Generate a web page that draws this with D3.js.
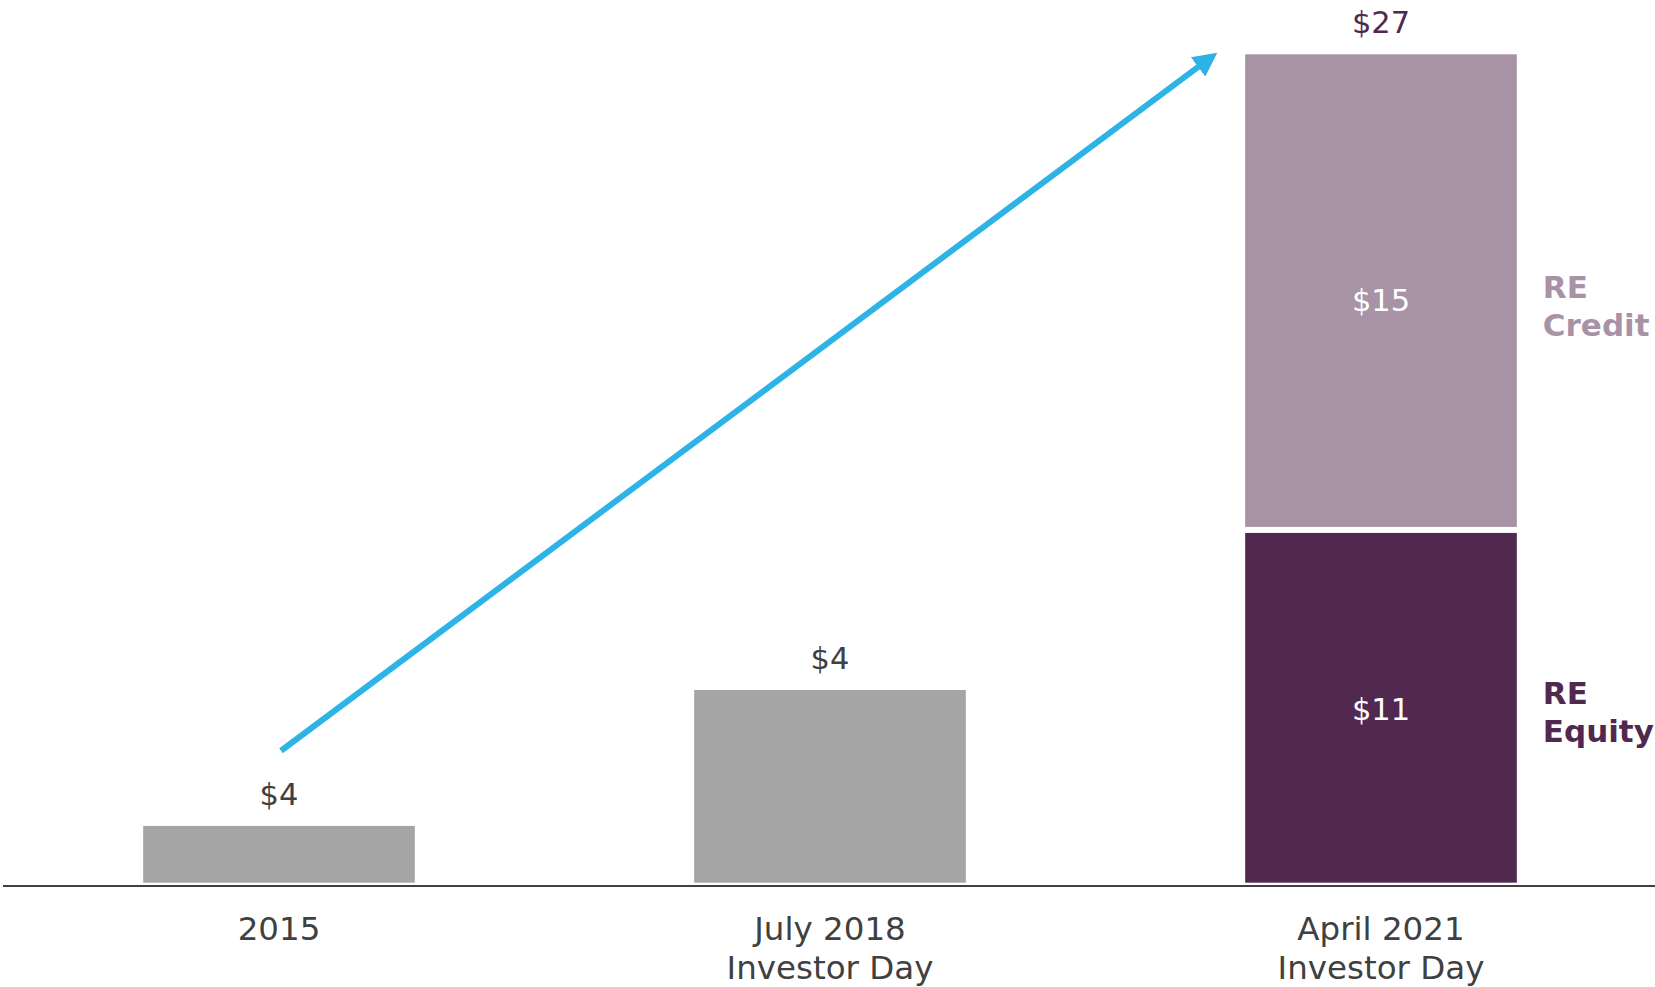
<!DOCTYPE html>
<html>
<head>
<meta charset="utf-8">
<script src="https://cdn.jsdelivr.net/npm/d3@7"></script>
<style>
  html, body { margin: 0; padding: 0; background: #ffffff; }
  svg { display: block; }
  text { font-family: "DejaVu Sans", Verdana, sans-serif; }
</style>
</head>
<body>
<svg id="chart" width="1655" height="987"></svg>
<script>
// ---- data ----
const categories = ["2015", "July 2018\nInvestor Day", "April 2021\nInvestor Day"];
const grayValues = [1.85, 6.28, null];          // single-colour bars (as drawn)
const grayLabels = ["$4", "$4", null];
const equityValues = [null, null, 11.4];        // RE Equity segment
const creditValues = [null, null, 15.6];        // RE Credit segment
const segmentLabels = { equity: "$11", credit: "$15" };
const totalLabels = [null, null, "$27"];
const seriesNames = ["RE Equity", "RE Credit"];
const arrowFrom = { cat: 0, value: 4.3 };
const arrowTo = { cat: 2, value: 27.05 };

// ---- styles ----
const C = {
  gray: "#a5a5a5",
  equity: "#51284f",
  credit: "#a893a6",
  text: "#404040",
  axis: "#404040",
  arrow: "#2db3e6"
};

const svg = d3.select("#chart");
const W = 1655, H = 987;
const baseY = 882.7;

const x = d3.scaleBand()
  .domain(categories)
  .range([3.5, 1656.5])
  .paddingInner(0.507)
  .paddingOuter(0.2535);

const y = d3.scaleLinear()
  .domain([0, 27])
  .range([baseY, 54.3]);

const bw = x.bandwidth();

// gray bars
const gIdx = grayValues.map((v, i) => i).filter(i => grayValues[i] != null);
svg.append("g").selectAll("rect").data(gIdx).join("rect")
  .attr("x", i => x(categories[i]))
  .attr("width", bw)
  .attr("y", i => y(grayValues[i]))
  .attr("height", i => y(0) - y(grayValues[i]))
  .attr("fill", C.gray);

svg.append("g").selectAll("text").data(gIdx).join("text")
  .attr("x", i => x(categories[i]) + bw / 2)
  .attr("y", i => y(grayValues[i]) - 21)
  .attr("text-anchor", "middle")
  .attr("font-size", 30.5)
  .attr("fill", C.text)
  .text(i => grayLabels[i]);

// stacked bar
const sIdx = equityValues.map((v, i) => i).filter(i => equityValues[i] != null);
const gap = 6;
sIdx.forEach(i => {
  const cx = x(categories[i]);
  const e = equityValues[i], c = creditValues[i];
  // equity
  svg.append("rect")
    .attr("x", cx).attr("width", bw)
    .attr("y", y(e)).attr("height", y(0) - y(e))
    .attr("fill", C.equity);
  // credit (white gap between segments)
  svg.append("rect")
    .attr("x", cx).attr("width", bw)
    .attr("y", y(e + c)).attr("height", y(e) - y(e + c) - gap)
    .attr("fill", C.credit);

  const eMid = (y(0) + y(e)) / 2 + 12;
  const cMid = (y(e) + y(e + c)) / 2 + 17;
  svg.append("text")
    .attr("x", cx + bw / 2).attr("y", eMid)
    .attr("text-anchor", "middle").attr("font-size", 30.5)
    .attr("fill", "#ffffff").text(segmentLabels.equity);
  svg.append("text")
    .attr("x", cx + bw / 2).attr("y", cMid)
    .attr("text-anchor", "middle").attr("font-size", 30.5)
    .attr("fill", "#ffffff").text(segmentLabels.credit);

  // total label
  svg.append("text")
    .attr("x", cx + bw / 2).attr("y", y(e + c) - 21)
    .attr("text-anchor", "middle").attr("font-size", 30.5)
    .attr("fill", C.equity).text(totalLabels[i]);

  // series labels to the right
  const lx = cx + bw + 26;
  const legend = [
    { name: seriesNames[1], color: C.credit, y0: cMid - 13 },
    { name: seriesNames[0], color: C.equity, y0: eMid - 16 }
  ];
  legend.forEach(l => {
    const t = svg.append("text")
      .attr("x", lx).attr("y", l.y0)
      .attr("font-size", 31).attr("font-weight", "bold")
      .attr("fill", l.color);
    l.name.split(" ").forEach((w, k) => {
      t.append("tspan").attr("x", lx).attr("dy", k === 0 ? 0 : 38.5).text(w);
    });
  });
});

// x axis baseline
svg.append("line")
  .attr("x1", 3).attr("x2", W)
  .attr("y1", 886).attr("y2", 886)
  .attr("stroke", C.axis).attr("stroke-width", 2);

// category labels
svg.append("g").selectAll("text").data(categories).join("text")
  .attr("text-anchor", "middle")
  .attr("font-size", 32.5)
  .attr("fill", C.text)
  .each(function (d) {
    const t = d3.select(this);
    d.split("\n").forEach((line, k) => {
      t.append("tspan")
        .attr("x", x(d) + bw / 2)
        .attr("y", 940 + k * 38.5)
        .text(line);
    });
  });

// growth arrow
const defs = svg.append("defs");
defs.append("marker")
  .attr("id", "ah")
  .attr("viewBox", "0 0 10 10")
  .attr("refX", 2).attr("refY", 5)
  .attr("markerUnits", "userSpaceOnUse")
  .attr("markerWidth", 24).attr("markerHeight", 24)
  .attr("orient", "auto")
  .append("path")
  .attr("d", "M0,0 L10,5 L0,10 Z")
  .attr("fill", C.arrow);

const x0 = x(categories[arrowFrom.cat]) + bw / 2 + 2;
const y0 = y(arrowFrom.value);
const x1 = x(categories[arrowTo.cat]) - 28;
const y1 = y(arrowTo.value);
// shorten line so the marker tip lands on (x1, y1)
const ang = Math.atan2(y1 - y0, x1 - x0);
const headLen = 19;
svg.append("line")
  .attr("x1", x0).attr("y1", y0)
  .attr("x2", x1 - Math.cos(ang) * headLen)
  .attr("y2", y1 - Math.sin(ang) * headLen)
  .attr("stroke", C.arrow)
  .attr("stroke-width", 6)
  .attr("marker-end", "url(#ah)");
</script>
</body>
</html>
